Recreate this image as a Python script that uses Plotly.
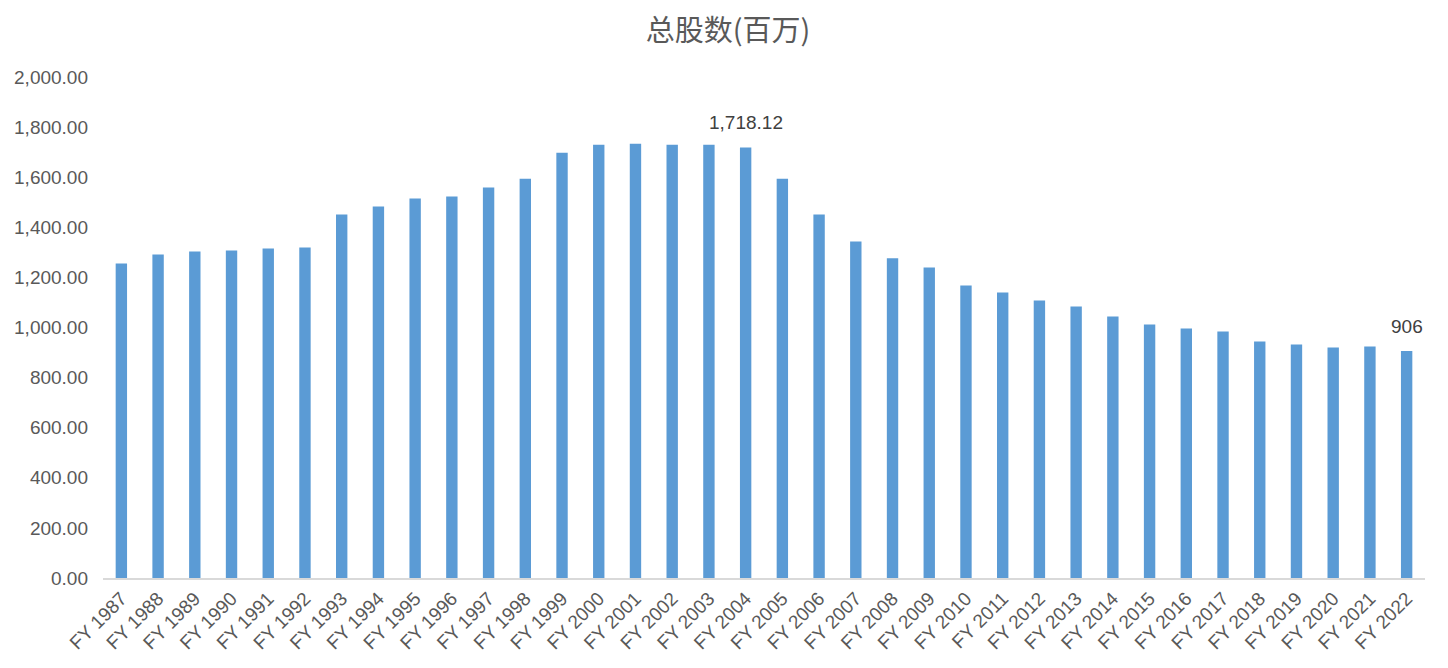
import plotly.graph_objects as go

years = list(range(1987, 2023))
categories = [f"FY {y}" for y in years]
shares = [1255, 1291, 1303, 1307, 1315, 1319, 1451, 1483, 1515, 1523,
          1559, 1594, 1698, 1730, 1734, 1730, 1730, 1718.12, 1594, 1451,
          1343, 1276, 1240, 1168, 1140, 1108, 1084, 1044, 1012, 996,
          984, 944, 932, 920, 924, 906]
label_idx = [17, 35]
label_text = ["1,718.12", "906"]

fig = go.Figure()
fig.add_trace(go.Bar(x=categories, y=shares, marker_color="#5b9bd5",
                     marker_line_width=0, hoverinfo="x+y"))

for i, t in zip(label_idx, label_text):
    fig.add_annotation(x=categories[i], y=shares[i], text=t, showarrow=False,
                       yanchor="middle", yshift=25,
                       font=dict(size=19, color="#404040", family="Liberation Sans, Arial"))

# the page adds an 8px body margin, so the figure is sized to sit inside it
fig.update_layout(
    width=1440, height=660,
    paper_bgcolor="white", plot_bgcolor="white",
    margin=dict(l=95, r=23, t=69, b=90),
    bargap=0.69,
    showlegend=False,
    title=dict(text="总股数(百万)", x=0.5, xanchor="center", y=0.966, yanchor="middle",
               font=dict(size=29, color="#595959", family="Noto Sans CJK SC")),
    font=dict(family="Liberation Sans, Arial", color="#595959"),
)
fig.update_yaxes(range=[0, 2000], dtick=200, tickformat=",.2f", showgrid=False,
                 zeroline=False, showline=False, ticks="", automargin=False,
                 tickfont=dict(size=19, color="#595959"), ticklabelstandoff=14)
fig.update_xaxes(showgrid=False, showline=True, linecolor="#d9d9d9", linewidth=2,
                 ticks="", tickangle=-45, automargin=False,
                 tickfont=dict(size=19, color="#595959"))

fig.write_html("out.html")
